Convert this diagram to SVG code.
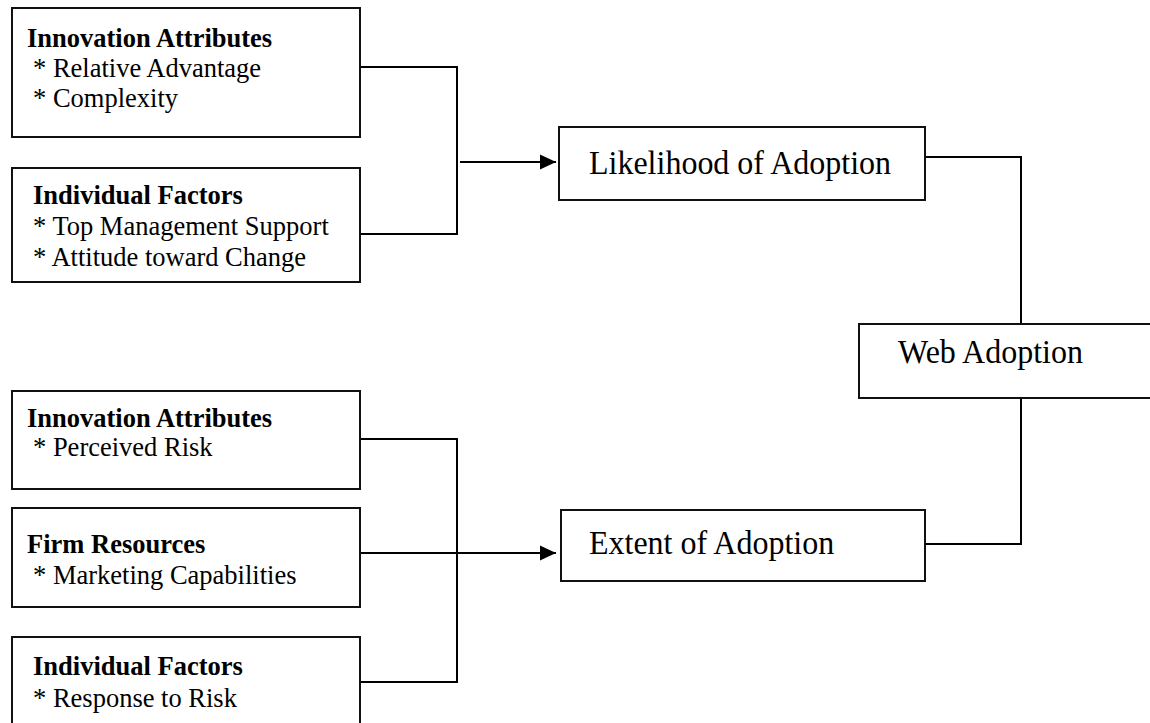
<svg xmlns="http://www.w3.org/2000/svg" width="1150" height="723" viewBox="0 0 1150 723">
<style>
.box{fill:#fff;stroke:#111;stroke-width:2}
.ln{fill:none;stroke:#000;stroke-width:2}
.t{font-family:"Liberation Serif","Times New Roman",serif;font-size:26.5px;fill:#000}
.b{font-weight:bold}
.big{font-family:"Liberation Serif","Times New Roman",serif;font-size:32px;fill:#000}
</style>
<defs>
<marker id="arr" markerWidth="16" markerHeight="16" viewBox="0 0 16 16" refX="16" refY="8" orient="auto" markerUnits="userSpaceOnUse">
<path d="M0,0.5 L16,8 L0,15.5 Z" fill="#000"/>
</marker>
</defs>
<rect width="1150" height="723" fill="#fff"/>
<g id="connectors">
<polyline class="ln" points="361,67 457,67 457,234 361,234"/>
<line class="ln" x1="460" y1="162" x2="556" y2="162" marker-end="url(#arr)"/>
<polyline class="ln" points="925,157 1021,157 1021,324"/>
<polyline class="ln" points="1021,398 1021,544 925,544"/>
<polyline class="ln" points="361,439 457,439 457,682 361,682"/>
<line class="ln" x1="361" y1="553" x2="556" y2="553" marker-end="url(#arr)"/>
</g>
<g id="innov1">
<rect class="box" x="12" y="8" width="348" height="129"/>
<text class="t b" x="27" y="47">Innovation Attributes</text>
<text class="t" x="33" y="77">* Relative Advantage</text>
<text class="t" x="33" y="107">* Complexity</text>
</g>
<g id="indiv1">
<rect class="box" x="12" y="168" width="348" height="114"/>
<text class="t b" x="33" y="204">Individual Factors</text>
<text class="t" x="33" y="235">* Top Management Support</text>
<text class="t" x="33" y="266">* Attitude toward Change</text>
</g>
<g id="likelihood">
<rect class="box" x="559" y="127" width="366" height="73"/>
<text class="big" transform="translate(589,174) scale(1,1.07)">Likelihood of Adoption</text>
</g>
<g id="web">
<rect class="box" x="859" y="324" width="320" height="74"/>
<text class="big" transform="translate(898,363) scale(1,1.07)">Web Adoption</text>
</g>
<g id="innov2">
<rect class="box" x="12" y="391" width="348" height="98"/>
<text class="t b" x="27" y="427">Innovation Attributes</text>
<text class="t" x="33" y="456">* Perceived Risk</text>
</g>
<g id="firm">
<rect class="box" x="12" y="508" width="348" height="99"/>
<text class="t b" x="27" y="553">Firm Resources</text>
<text class="t" x="33" y="584">* Marketing Capabilities</text>
</g>
<g id="indiv2">
<rect class="box" x="12" y="637" width="348" height="120"/>
<text class="t b" x="33" y="675">Individual Factors</text>
<text class="t" x="33" y="707">* Response to Risk</text>
</g>
<g id="extent">
<rect class="box" x="561" y="510" width="364" height="71"/>
<text class="big" transform="translate(589,554) scale(1,1.07)">Extent of Adoption</text>
</g>
</svg>
